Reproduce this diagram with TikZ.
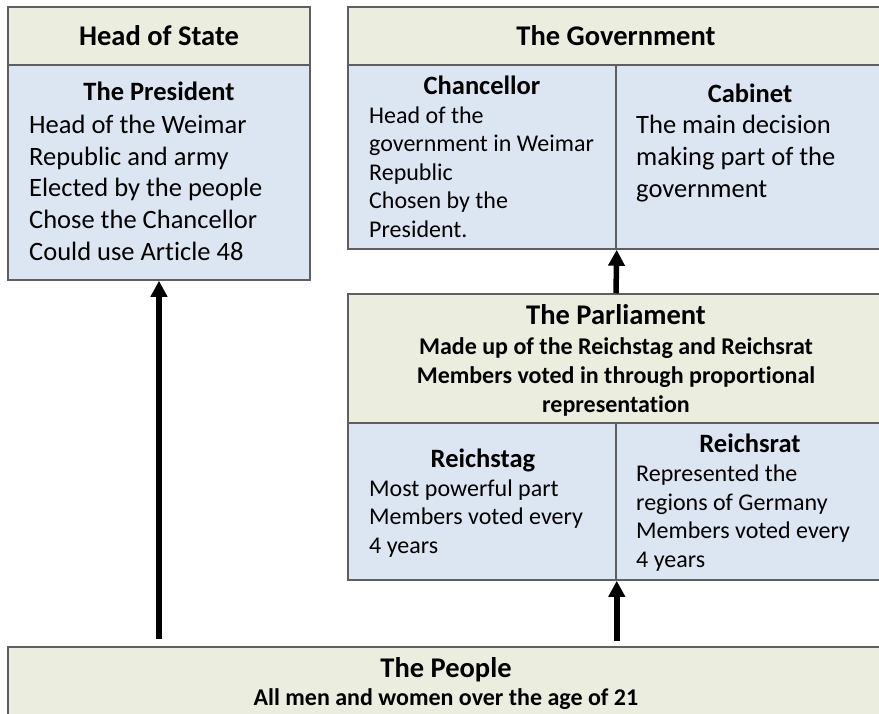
\documentclass[tikz,border=0pt]{standalone}
\usepackage{fontspec}
\setmainfont{Carlito}[Ligatures=NoCommon]
\usetikzlibrary{arrows.meta}
\definecolor{hdrgreen}{HTML}{EBEEDE}
\definecolor{cellblue}{HTML}{DCE6F2}
\definecolor{boxline}{HTML}{5F5F5F}
\tikzstyle{hdr}=[draw=boxline, fill=hdrgreen, line width=1.5pt, inner sep=0pt]
\tikzstyle{cell}=[draw=boxline, fill=cellblue, line width=1.5pt, inner sep=0pt]
\tikzstyle{arrow}=[draw=black, line width=5.5pt, -{Triangle[length=16pt, width=16pt]}]
\tikzstyle{big}=[font=\fontsize{28.5}{34}\selectfont\bfseries]
\tikzstyle{sub}=[font=\fontsize{26.5}{32}\selectfont\bfseries, inner sep=0pt]
\tikzstyle{body}=[font=\fontsize{26.5}{31.6}\selectfont, align=left, inner sep=0pt]
\tikzstyle{small}=[font=\fontsize{24}{28.4}\selectfont, align=left, inner sep=0pt]
\tikzstyle{note}=[font=\fontsize{24}{29}\selectfont\bfseries, align=center, inner sep=0pt]

\begin{document}
\begin{tikzpicture}[x=1pt, y=-1pt]
		   \useasboundingbox (0, 0) rectangle (879, 713);
		   \clip (0, 0) rectangle (879, 713);
		   \node (stateB) at (159, 172.5)[cell, minimum width=302, minimum height=215] {};
		   \node (stateH) at (159, 36)[hdr, big, minimum width=302, minimum height=58] {Head of State};
		   \node (chancB) at (482, 157)[cell, minimum width=268, minimum height=184] {};
		   \node (cabB) at (750, 157)[cell, minimum width=268, minimum height=184] {};
		   \node (govH) at (616, 36)[hdr, big, minimum width=536, minimum height=58] {The Government};
		   \node (rtagB) at (482, 501.5)[cell, minimum width=268, minimum height=157] {};
		   \node (rratB) at (750, 501.5)[cell, minimum width=268, minimum height=157] {};
		   \node (parlH) at (616, 358.5)[hdr, minimum width=536, minimum height=129] {};
		   \node (peopH) at (446, 703.5)[hdr, minimum width=876, minimum height=113] {};

		   \node (presT) at (159, 100)[sub, anchor=base] {The President};
		   \node (presX) at (29, 260)[body, anchor=base west] {Head of the Weimar\\Republic and army\\Elected by the people\\Chose the Chancellor\\Could use Article 48};
		   \node (chancT) at (482, 94)[sub, anchor=base] {Chancellor};
		   \node (chancX) at (369, 237)[small, anchor=base west] {Head of the\\government in Weimar\\Republic\\Chosen by the\\President.};
		   \node (cabT) at (750, 102)[sub, anchor=base] {Cabinet};
		   \node (cabX) at (636, 197)[body, anchor=base west] {The main decision\\making part of the\\government};
		   \node (parlT) at (616, 324)[big, inner sep=0pt, anchor=base] {The Parliament};
		   \node (parlX) at (616, 412)[note, anchor=base] {Made up of the Reichstag and Reichsrat\\Members voted in through proportional\\representation};
		   \node (rtagT) at (483, 467)[sub, anchor=base] {Reichstag};
		   \node (rtagX) at (369, 553)[small, anchor=base west] {Most powerful part\\Members voted every\\4 years};
		   \node (rratT) at (750, 452)[sub, anchor=base] {Reichsrat};
		   \node (rratX) at (636, 567)[small, anchor=base west] {Represented the\\regions of Germany\\Members voted every\\4 years};
		   \node (peopT) at (446, 677)[big, inner sep=0pt, anchor=base] {The People};
		   \node (peopX) at (446, 705)[note, anchor=base] {All men and women over the age of 21};

		   \draw[arrow, shorten <=7pt] (peopH.north -| stateB.south) -- (stateB.south);
		   \draw[arrow, shorten <=5pt] (peopH.north -| rtagB.south east) -- (rtagB.south east);
		   \draw[arrow] (parlH.north) -- (chancB.south east);
	   \end{tikzpicture}
\end{document}
